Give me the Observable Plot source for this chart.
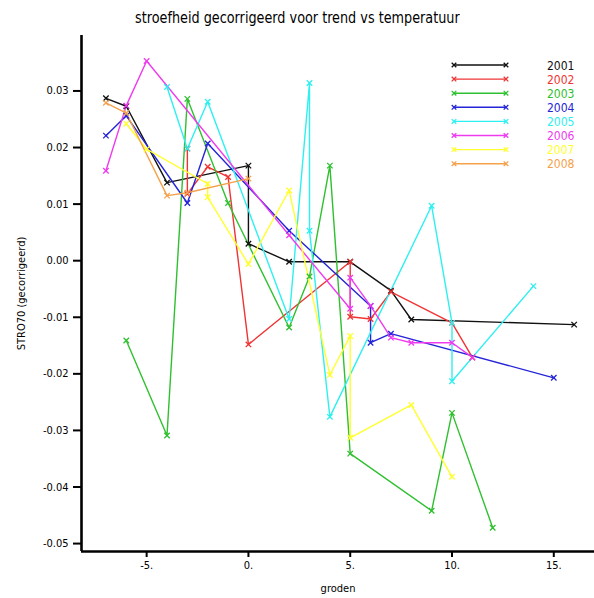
<!DOCTYPE html>
<html>
<head>
<meta charset="utf-8">
<script src="https://cdn.jsdelivr.net/npm/d3@7"></script>
<script src="https://cdn.jsdelivr.net/npm/@observablehq/plot@0.6"></script>
<style>
  html, body { margin: 0; padding: 0; background: #fff; }
  #wrap { position: relative; width: 594px; height: 598px; overflow: hidden; }
  #title { position: absolute; left: 0; top: 8px; width: 594px; text-align: center;
    font-family: "DejaVu Sans Condensed", "DejaVu Sans", sans-serif; font-size: 16px; color: #000; }
  #title span { display: inline-block; transform: scaleX(0.89); transform-origin: center; }
  #legend { position: absolute; left: 448px; top: 58px; }
</style>
</head>
<body>
<div id="wrap">
  <div id="title"><span>stroefheid gecorrigeerd voor trend vs temperatuur</span></div>
  <div id="chart"></div>
  <div id="legend"></div>
</div>
<script>
// ---- data ----
const years = ["2001", "2002", "2003", "2004", "2005", "2006", "2007", "2008"];
const colors = ["#111111", "#f03434", "#2fc02f", "#2424d8", "#2ef0f0", "#ef3bef", "#ffff2e", "#f5a14a"];

const s2001 = [[-7, 0.0287], [-6, 0.0273], [-4, 0.0138], [0, 0.0168], [0, 0.0030], [2, -0.0002], [5, -0.0002], [7, -0.0053], [8, -0.0104], [16, -0.0113]];
const s2002 = [[-3, 0.0198], [-3, 0.0118], [-2, 0.0166], [-1, 0.0148], [0, -0.0148], [5, -0.0002], [5, -0.0099], [6, -0.0103], [7, -0.0055], [10, -0.0110], [11, -0.0171]];
const s2003 = [[-6, -0.0141], [-4, -0.0309], [-3, 0.0286], [-1, 0.0102], [2, -0.0118], [3, -0.0028], [4, 0.0168], [5, -0.0341], [9, -0.0442], [10, -0.0269], [12, -0.0472]];
const s2004 = [[-7, 0.0221], [-6, 0.0256], [-3, 0.0102], [-2, 0.0207], [2, 0.0053], [6, -0.0080], [6, -0.0145], [7, -0.0129], [15, -0.0207]];
const s2005 = [[-4, 0.0307], [-3, 0.0198], [-2, 0.0281], [2, -0.0103], [3, 0.0314], [3, 0.0053], [4, -0.0276], [9, 0.0097], [10, -0.0110], [10, -0.0213], [14, -0.0045]];
const s2006 = [[-7, 0.0159], [-6, 0.0274], [-5, 0.0353], [2, 0.0045], [5, -0.0085], [5, -0.0030], [6, -0.0080], [7, -0.0136], [8, -0.0145], [10, -0.0145], [11, -0.0171]];
const s2007 = [[-6, 0.0242], [-5, 0.0197], [-2, 0.0136], [-2, 0.0112], [0, -0.0006], [2, 0.0124], [4, -0.0202], [5, -0.0133], [5, -0.0313], [8, -0.0255], [10, -0.0382]];
const s2008 = [[-7, 0.0279], [-6, 0.0261], [-4, 0.0115], [-3, 0.0120], [0, 0.0145]];
const series = [s2001, s2002, s2003, s2004, s2005, s2006, s2007, s2008];

const xTicks = [-5, 0, 5, 10, 15];
const yTicks = [0.03, 0.02, 0.01, 0.00, -0.01, -0.02, -0.03, -0.04, -0.05];
const xDomain = [-8.2, 17.0];
const yDomain = [-0.0514, 0.0398];
const xLabel = "groden";
const yLabel = "STRO70 (gecorrigeerd)";

// ---- build table ----
const rows = series.flatMap((s, i) => s.map(([x, y], k) => ({year: years[i], x, y, k})));

const font = "'DejaVu Sans Condensed', 'DejaVu Sans', sans-serif";

const chart = Plot.plot({
  width: 594,
  height: 598,
  marginTop: 35,
  marginBottom: 47,
  marginLeft: 81,
  marginRight: 0,
  style: {fontFamily: font, fontSize: "11px", color: "#000", background: "transparent"},
  x: {domain: xDomain},
  y: {domain: yDomain},
  color: {domain: years, range: colors},
  marks: [
    Plot.axisX({ticks: xTicks, tickFormat: d => d + ".", tickSize: 6, strokeWidth: 2, tickPadding: 4,
      label: xLabel, labelAnchor: "center", labelOffset: 40, labelArrow: "none", fontSize: 11}),
    Plot.axisY({ticks: yTicks, tickFormat: d => d.toFixed(2), tickSize: 8, strokeWidth: 2, tickPadding: 5,
      label: yLabel, labelAnchor: "center", labelOffset: 64, labelArrow: "none", fontSize: 11}),
    Plot.line(rows, {x: "x", y: "y", z: "year", stroke: "year", strokeWidth: 1.4, curve: "linear"}),
    Plot.dot(rows, {x: "x", y: "y", stroke: "year", symbol: "times", r: 2.6, strokeWidth: 1.3}),
    Plot.ruleX([xDomain[0]], {y1: yDomain[0], y2: yDomain[1], strokeWidth: 2.6}),
    Plot.ruleY([yDomain[0]], {x1: xDomain[0], x2: xDomain[1], strokeWidth: 2.6})
  ]
});
// strip any label arrows that the library might add
d3.select(chart).selectAll("text").each(function () {
  const t = this.textContent;
  if (/[→↑←↓]/.test(t)) this.textContent = t.replace(/\s*[→↑←↓]\s*/g, "");
});
document.getElementById("chart").appendChild(chart);

// ---- legend (inside the plot, top right) ----
const rowH = 14.1;
const lg = d3.select("#legend").append("svg")
  .attr("width", 140).attr("height", years.length * rowH + 6)
  .style("font-family", font).style("font-size", "12px");
const g = lg.selectAll("g").data(years).join("g")
  .attr("transform", (d, i) => `translate(0,${7 + i * rowH})`);
g.append("line").attr("x1", 6).attr("x2", 58).attr("y1", 0).attr("y2", 0)
  .attr("stroke", (d, i) => colors[i]).attr("stroke-width", 1.4);
[6, 58].forEach(cx => {
  g.append("path").attr("d", `M${cx - 2.3},-2.3L${cx + 2.3},2.3M${cx - 2.3},2.3L${cx + 2.3},-2.3`)
    .attr("stroke", (d, i) => colors[i]).attr("stroke-width", 1.3);
});
g.append("text").attr("x", 99).attr("y", 0).attr("dy", "0.38em")
  .attr("fill", (d, i) => colors[i]).text(d => d);
</script>
</body>
</html>
